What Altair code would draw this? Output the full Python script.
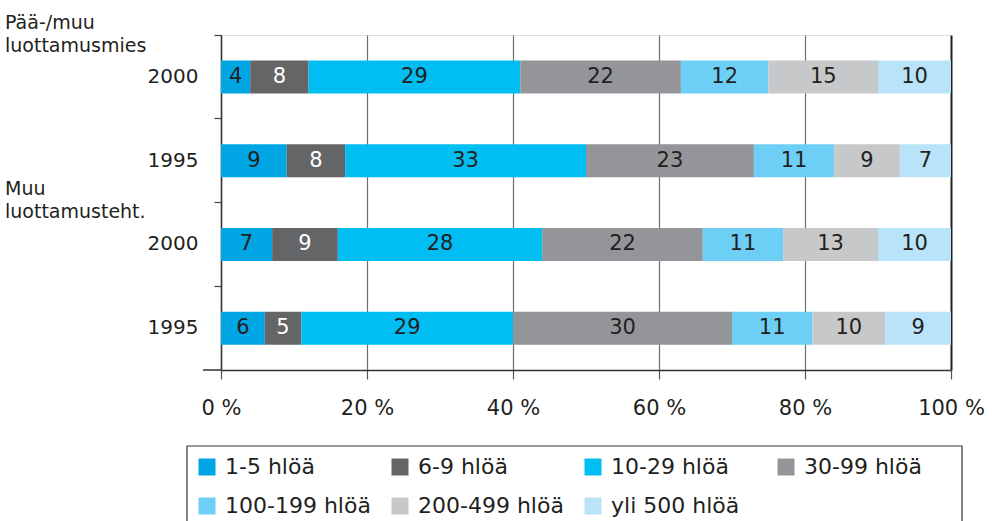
import altair as alt
import pandas as pd

# --- data -------------------------------------------------------------
categories = ["1-5 hlöä", "6-9 hlöä", "10-29 hlöä", "30-99 hlöä",
              "100-199 hlöä", "200-499 hlöä", "yli 500 hlöä"]
colors = ["#00a6e4", "#646567", "#00bdf2", "#939598",
          "#6dcff6", "#c7c8ca", "#b8e3f8"]

row_keys = ["P2000", "P1995", "M2000", "M1995"]
row_years = ["2000", "1995", "2000", "1995"]

paa_2000 = [4, 8, 29, 22, 12, 15, 10]
paa_1995 = [9, 8, 33, 23, 11, 9, 7]
muu_2000 = [7, 9, 28, 22, 11, 13, 10]
muu_1995 = [6, 5, 29, 30, 11, 10, 9]

group1 = ["Pää-/muu", "luottamusmies"]
group2 = ["Muu", "luottamusteht."]
x_ticks = [0, 20, 40, 60, 80, 100]

series = [paa_2000, paa_1995, muu_2000, muu_1995]
records = []
for key, year, vals in zip(row_keys, row_years, series):
    for ci, (cat, v) in enumerate(zip(categories, vals)):
        records.append({"row": key, "year": year, "cat": cat, "ci": ci, "value": v})
df = pd.DataFrame(records)

FONT = "DejaVu Sans"
TXT = "#231f20"

base = alt.Chart(df).transform_stack(
    stack="value", groupby=["row"], as_=["x0", "x1"],
    sort=[alt.SortField("ci", order="ascending")]
).transform_calculate(mid="(datum.x0 + datum.x1) / 2")

y_enc = alt.Y(
    "row:N", sort=row_keys, title=None,
    scale=alt.Scale(paddingInner=0, paddingOuter=0),
    axis=alt.Axis(
        bandPosition=0, labelExpr="substring(datum.value, 1)",
        domainColor="#333333", domainWidth=1.5, tickColor="#444444", tickSize=7,
        tickWidth=1.2, labelFont=FONT, labelFontSize=20, labelColor=TXT,
        labelPadding=16, labelAlign="right", grid=False,
    ),
)

x_axis = alt.Axis(
    values=x_ticks, labelExpr="datum.value + ' %'", title=None,
    labelFont=FONT, labelFontSize=21, labelColor=TXT, labelPadding=18,
    labelFlush=False, labelOverlap=False,
    domainColor="#333333", domainWidth=1.5, tickColor="#555555", tickSize=9,
    tickWidth=1.2, grid=True,
    gridColor=alt.condition("datum.value == 100", alt.value("#222222"), alt.value("#6d6e71")),
    gridWidth=alt.condition("datum.value == 100", alt.value(2), alt.value(1.2)),
)

bars = base.mark_bar(height=33).encode(
    y=y_enc,
    x=alt.X("x0:Q", scale=alt.Scale(domain=[0, 100], nice=False), axis=x_axis),
    x2="x1:Q",
    color=alt.Color(
        "cat:N", scale=alt.Scale(domain=categories, range=colors),
        legend=alt.Legend(
            title=None, orient="none", legendX=-34, legendY=412, columns=4,
            direction="horizontal",
            gridAlign="all", symbolType="square", symbolSize=289,
            symbolStrokeWidth=0, symbolOpacity=1, labelFont=FONT,
            labelFontSize=22, labelColor=TXT, labelOffset=7, labelLimit=400,
            columnPadding=18, rowPadding=17, padding=9,
        ),
    ),
)

labels = base.mark_text(font=FONT, fontSize=21, baseline="middle", align="center").encode(
    y=alt.Y("row:N", sort=row_keys),
    x=alt.X("mid:Q"),
    text="value:Q",
    color=alt.condition("datum.cat == '6-9 hlöä'", alt.value("white"), alt.value(TXT)),
)

one = alt.Chart(pd.DataFrame({"a": [0]}))
g1 = one.mark_text(align="left", baseline="alphabetic", font=FONT, fontSize=19,
                   color=TXT, lineHeight=23).encode(
    x=alt.value(-216), y=alt.value(-6), text=alt.value(group1))
g2 = one.mark_text(align="left", baseline="alphabetic", font=FONT, fontSize=19,
                   color=TXT, lineHeight=23).encode(
    x=alt.value(-216), y=alt.value(160), text=alt.value(group2))

stub = one.mark_rule(color="#333333", strokeWidth=1.5).encode(
    x=alt.value(-18), x2=alt.value(0), y=alt.value(335))

legend_box = one.mark_rect(fill=None, stroke="#333333", strokeWidth=1.2).encode(
    x=alt.value(-34), x2=alt.value(741), y=alt.value(411), y2=alt.value(500))

chart = alt.layer(bars, labels, g1, g2, stub, legend_box).properties(
    width=730, height=335,
    autosize=alt.AutoSizeParams(type="none"),
    padding={"left": 221, "top": 35, "right": 46, "bottom": 151},
).configure_view(stroke=None).configure(background="white")

chart.save("out.html", embed_options={"renderer": "svg", "actions": False})
